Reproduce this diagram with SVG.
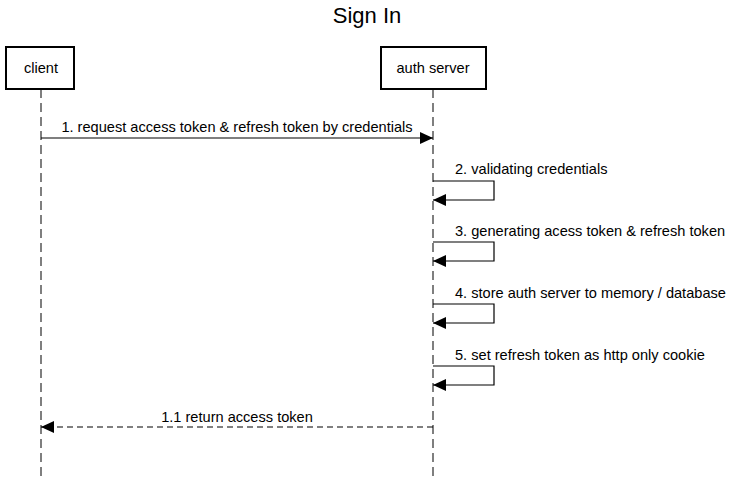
<svg xmlns="http://www.w3.org/2000/svg" width="733" height="480" viewBox="0 0 733 480">
<style>
text{font-family:"Liberation Sans",Arial,sans-serif;fill:#000}
.actor{fill:#fff;stroke:#000;stroke-width:2}
.lbl{font-size:14.6px;text-anchor:middle}
.msg{font-size:14.6px}
.life{stroke:#555;stroke-width:1.5;stroke-dasharray:9,5;fill:none}
.ln{stroke:#000;stroke-width:1.2;fill:none}
.dash{stroke-dasharray:6,4}
</style>
<defs>
<marker id="ah" viewBox="0 0 13 12" refX="13" refY="6" markerWidth="13" markerHeight="12" markerUnits="userSpaceOnUse" orient="auto">
<path d="M0,0 L13,6 L0,12 z" fill="#000"/>
</marker>
</defs>
<rect width="733" height="480" fill="#fff"/>
<text x="367" y="23" font-size="22" text-anchor="middle">Sign In</text>
<g id="lifelines">
<line class="life" x1="41" y1="89" x2="41" y2="480"/>
<line class="life" x1="433" y1="89" x2="433" y2="480"/>
</g>
<g id="client">
<rect class="actor" x="6" y="47" width="68" height="42"/>
<text class="lbl" x="41" y="73">client</text>
</g>
<g id="auth-server">
<rect class="actor" x="381" y="47" width="105" height="42"/>
<text class="lbl" x="433" y="73">auth server</text>
</g>
<g id="connectors">
<path class="ln" d="M41,138 H433" marker-end="url(#ah)"/>
<path class="ln" d="M433,181 H494 V200 H433" marker-end="url(#ah)"/>
<path class="ln" d="M433,242 H494 V261 H433" marker-end="url(#ah)"/>
<path class="ln" d="M433,304 H494 V323 H433" marker-end="url(#ah)"/>
<path class="ln" d="M433,366 H494 V385 H433" marker-end="url(#ah)"/>
<path class="ln dash" d="M433,427 H41" marker-end="url(#ah)"/>
</g>
<g id="labels">
<text class="msg" x="237" y="132" text-anchor="middle">1. request access token &amp; refresh token by credentials</text>
<text class="msg" x="455" y="174">2. validating credentials</text>
<text class="msg" x="455" y="236">3. generating acess token &amp; refresh token</text>
<text class="msg" x="455" y="298">4. store auth server to memory / database</text>
<text class="msg" x="455" y="360">5. set refresh token as http only cookie</text>
<text class="msg" x="237" y="422" text-anchor="middle">1.1 return access token</text>
</g>
</svg>
